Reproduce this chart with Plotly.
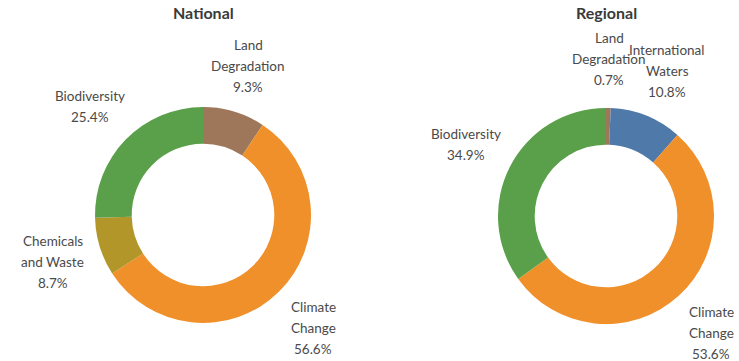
import plotly.graph_objects as go

# Data
nat_labels = ["Land Degradation", "Climate Change", "Chemicals and Waste", "Biodiversity"]
nat_values = [9.3, 56.6, 8.7, 25.4]
nat_colors = ["#9E7659", "#F0902A", "#B3962A", "#5AA04B"]

reg_labels = ["Land Degradation", "International Waters", "Climate Change", "Biodiversity"]
reg_values = [0.7, 10.8, 53.6, 34.9]
reg_colors = ["#9E7659", "#4E79A8", "#F0902A", "#5AA04B"]

W, H = 739, 361
FONT = "Lato"
GREY = "#4a4a4a"

# how each category name is broken into lines
wrap = {
    "Land Degradation": ["Land", "Degradation"],
    "Climate Change": ["Climate", "Change"],
    "Chemicals and Waste": ["Chemicals", "and Waste"],
    "International Waters": ["International", "Waters"],
    "Biodiversity": ["Biodiversity"],
}

# label block positions in window pixels: (center x, first line y)
nat_pos = {
    "Land Degradation": (248, 45),
    "Climate Change": (313, 307),
    "Chemicals and Waste": (53, 241),
    "Biodiversity": (90, 96),
}
reg_pos = {
    "Land Degradation": (609, 38),
    "International Waters": (667, 50),
    "Climate Change": (711, 312),
    "Biodiversity": (466, 134),
}
LINE = 21


def px(x):
    return x / W


def py(y):
    return 1 - y / H


def dom(cx, cy, r):
    return dict(x=[px(cx - r), px(cx + r)], y=[py(cy + r), py(cy - r)])


fig = go.Figure()
fig.add_trace(go.Pie(labels=nat_labels, values=nat_values, hole=0.66, sort=False,
                     direction="clockwise", rotation=0, textinfo="none",
                     marker=dict(colors=nat_colors, line=dict(width=0)),
                     domain=dom(203, 215, 108), hoverinfo="label+percent"))
fig.add_trace(go.Pie(labels=reg_labels, values=reg_values, hole=0.66, sort=False,
                     direction="clockwise", rotation=0, textinfo="none",
                     marker=dict(colors=reg_colors, line=dict(width=0)),
                     domain=dom(606, 216, 108), hoverinfo="label+percent"))

annotations = []
for labels, values, pos in [(nat_labels, nat_values, nat_pos), (reg_labels, reg_values, reg_pos)]:
    for lab, val in zip(labels, values):
        cx, y0 = pos[lab]
        lines = wrap[lab] + [f"{val:.1f}%"]
        for i, t in enumerate(lines):
            annotations.append(dict(x=px(cx), y=py(y0 + i * LINE), xref="paper", yref="paper",
                                    text=t, showarrow=False, xanchor="center", yanchor="middle",
                                    font=dict(family=FONT, size=13.5, color=GREY)))

for title, cx in [("National", 203), ("Regional", 606)]:
    annotations.append(dict(x=px(cx), y=py(13), xref="paper", yref="paper",
                            text=f"<b>{title}</b>", showarrow=False, xanchor="center",
                            yanchor="middle", font=dict(family=FONT, size=16, color="#3a3a3a")))

fig.update_layout(width=W, height=H, margin=dict(l=0, r=0, t=0, b=0),
                  showlegend=False, paper_bgcolor="white", plot_bgcolor="white",
                  annotations=annotations)

# drop the default page margin so the figure fills the window
fig.write_html("out.html", config={"displayModeBar": False},
               post_script="document.body.style.margin='0';"
                           "document.body.style.overflow='hidden';")
